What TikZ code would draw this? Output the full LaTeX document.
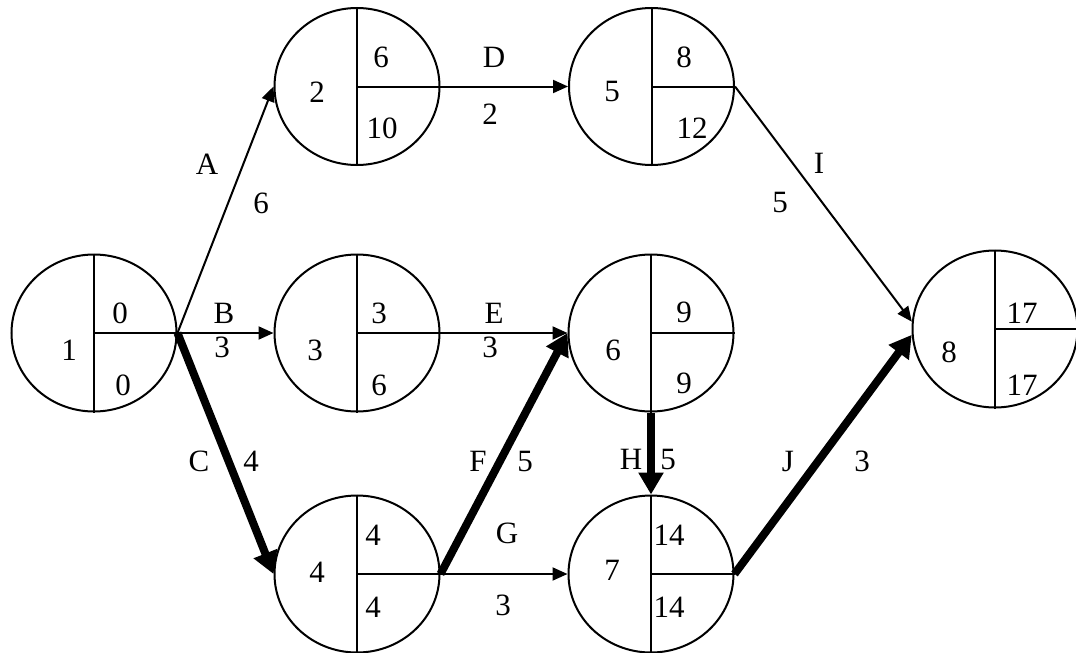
\documentclass[tikz,border=0pt]{standalone}
\usepackage{fontspec}
\setmainfont{Liberation Serif}
\usetikzlibrary{arrows.meta,shapes.geometric}
\begin{document}
\begin{tikzpicture}[x=1pt,y=-1pt,
  ev/.style={draw, line width=2pt, ellipse, minimum width=165pt, minimum height=157pt, inner sep=0pt},
  div/.style={line width=2pt},
  act/.style={line width=2pt, -{Triangle[length=15pt,width=13pt]}},
  critact/.style={line width=8pt, -{Triangle[length=22pt,width=24pt]}},
  lab/.style={inner sep=0pt, font=\fontsize{31}{33}\selectfont}]
\useasboundingbox (0,0) rectangle (1076,653);
% events
\node[ev] (n1) at (94,333) {};
\node[ev] (n2) at (357,86.5) {};
\node[ev] (n3) at (357,333) {};
\node[ev] (n4) at (357,574) {};
\node[ev] (n5) at (651.5,86.5) {};
\node[ev] (n6) at (651,333) {};
\node[ev] (n7) at (651,574) {};
\node[ev] (n8) at (995,329) {};
\foreach \n in {n1,n2,n3,n4,n5,n6,n7,n8}{
  \draw[div] (\n.north) -- (\n.south);
  \draw[div] (\n.center) -- (\n.east);
}
% texts inside events
\node[lab] (t1) at (69,350) {1};
\node[lab] (e1) at (120,313) {0};
\node[lab] (l1) at (123,385) {0};
\node[lab] (t2) at (317,92) {2};
\node[lab] (e2) at (381,57) {6};
\node[lab] (l2) at (382,128) {10};
\node[lab] (t3) at (315,350) {3};
\node[lab] (e3) at (379,313) {3};
\node[lab] (l3) at (379,385) {6};
\node[lab] (t4) at (317,572) {4};
\node[lab] (e4) at (373,535) {4};
\node[lab] (l4) at (373,607) {4};
\node[lab] (t5) at (612,92) {5};
\node[lab] (e5) at (684,57) {8};
\node[lab] (l5) at (692,128) {12};
\node[lab] (t6) at (613,350) {6};
\node[lab] (e6) at (684,312) {9};
\node[lab] (l6) at (684,383) {9};
\node[lab] (t7) at (612,570) {7};
\node[lab] (e7) at (669,535) {14};
\node[lab] (l7) at (669,607) {14};
\node[lab] (t8) at (949,352) {8};
\node[lab] (e8) at (1022,313) {17};
\node[lab] (l8) at (1022,385) {17};
% activities
\draw[act] (n1.east) -- (n2.west);
\draw[act] (n1.east) -- (n3.west);
\draw[critact] (n1.east) -- (n4.west);
\draw[act] (n2.east) -- (n5.west);
\draw[act] (n3.east) -- (n6.west);
\draw[critact] (n4.east) -- (n6.west);
\draw[act] (n4.east) -- (n7.west);
\draw[critact] (n6.south) -- (n7.north);
\draw[act] (n5.east) -- (n8.175);
\draw[critact] (n7.east) -- (n8.184);
% activity labels
\node[lab] (aA) at (207,164) {A};
\node[lab] (dA) at (261,203) {6};
\node[lab] (aB) at (224,313) {B};
\node[lab] (dB) at (222,347) {3};
\node[lab] (aC) at (199,461) {C};
\node[lab] (dC) at (251,461) {4};
\node[lab] (aD) at (494,57) {D};
\node[lab] (dD) at (490,114) {2};
\node[lab] (aE) at (494,313) {E};
\node[lab] (dE) at (490,347) {3};
\node[lab] (aF) at (478,461) {F};
\node[lab] (dF) at (525,461) {5};
\node[lab] (aG) at (507,533) {G};
\node[lab] (dG) at (503,605) {3};
\node[lab] (aH) at (631,459) {H};
\node[lab] (dH) at (668,459) {5};
\node[lab] (aI) at (819,163) {I};
\node[lab] (dI) at (780,202) {5};
\node[lab] (aJ) at (788,461) {J};
\node[lab] (dJ) at (862,461) {3};
\end{tikzpicture}
\end{document}
